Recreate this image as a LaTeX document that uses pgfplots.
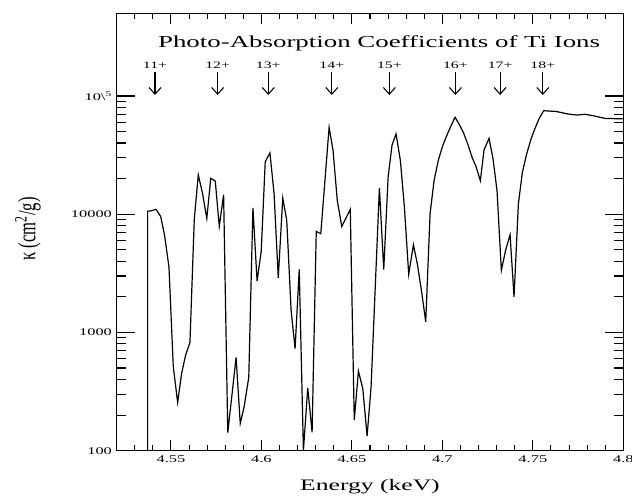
\documentclass[border=0pt]{standalone}
\usepackage{fontspec}
\setmainfont{Liberation Serif}[FakeStretch=1.6]
\newfontfamily\plainserif{Liberation Serif}
\usepackage{pgfplots}
\usepackage{pgfplotstable}
\pgfplotsset{compat=1.18}
\usetikzlibrary{arrows.meta}

% Ti ion photo-absorption coefficient
\pgfplotstableread{
E kappa
4.5371 100
4.5371 10600
4.5393 10700
4.5417 11000
4.5443 9600
4.5465 6600
4.5489 3570
4.5513 512
4.5537 256
4.5559 450
4.5581 642
4.5605 822
4.5629 9100
4.5651 21500
4.5675 14900
4.5698 9200
4.5720 20100
4.5745 19100
4.5767 7900
4.5791 14600
4.5814 142
4.5860 614
4.5883 170
4.5905 238
4.5930 416
4.5953 11300
4.5976 2720
4.5999 4880
4.6021 27800
4.6047 33000
4.6070 14900
4.6093 2900
4.6118 13700
4.6140 8850
4.6164 1540
4.6186 731
4.6209 3410
4.6232 100
4.6256 340
4.6280 143
4.6303 7150
4.6328 6840
4.6374 54200
4.6396 34500
4.6419 13100
4.6444 7870
4.6491 11000
4.6513 181
4.6536 471
4.6560 336
4.6584 133
4.6606 347
4.6652 16700
4.6676 3400
4.6700 20500
4.6722 38600
4.6744 47700
4.6768 28400
4.6790 11500
4.6814 3100
4.6840 5520
4.6862 3770
4.6886 2170
4.6908 1230
4.6932 10100
4.6954 19200
4.6978 28800
4.7002 38000
4.7024 46200
4.7048 56000
4.7070 66000
4.7092 58000
4.7116 49200
4.7140 39300
4.7164 30300
4.7186 25300
4.7210 19200
4.7230 34900
4.7258 43800
4.7280 29300
4.7302 15800
4.7326 3350
4.7350 5000
4.7374 6700
4.7396 2000
4.7420 12200
4.7442 22600
4.7466 32400
4.7490 43300
4.7514 54200
4.7536 65000
4.7560 75000
4.7628 74000
4.7696 70300
4.7743 69000
4.7789 70000
4.7835 68000
4.7899 64600
4.8000 64000
}\kappadata

\tikzset{ionarrow/.style={line width=0.8pt, -{Straight Barb[length=5pt,width=9pt,line width=0.8pt]}},
         ionlab/.style={anchor=base, font=\fontsize{7.4}{9}\selectfont}}

\begin{document}
\begin{tikzpicture}
% x ticks and the curve
\begin{axis}[
    scale only axis, width=380pt, height=328pt,
    xmin=4.52, xmax=4.8, ymode=log, ymin=100, ymax=5e5,
    clip mode=individual,
    tick style={line width=0.8pt, black},
    tick align=inside,
    ticklabel style={font=\fontsize{7.7}{9}\selectfont},
    major tick length=8pt, minor tick length=4.3pt,
    xtick={4.55,4.6,4.65,4.7,4.75,4.8},
    xticklabels={4.55,4.6,4.65,4.7,4.75,4.8},
    minor xtick={4.52,4.53,4.54,4.56,4.57,4.58,4.59,4.61,4.62,4.63,4.64,4.66,4.67,4.68,4.69,4.71,4.72,4.73,4.74,4.76,4.77,4.78,4.79},
    xtick pos=both,
    ytick=\empty, yminorticks=false,
  ]
  \addplot[black, line width=0.9pt, line join=miter] table[x=E, y=kappa] {\kappadata};
  \draw[line width=0.9pt] (rel axis cs:0,0) rectangle (rel axis cs:1,1);

  \node[anchor=base, font=\fontsize{12.6}{14}\selectfont]
    at (rel axis cs:0.518,0.921) {Photo-Absorption Coefficients of Ti Ions};
  \node[font=\fontsize{12}{14}\selectfont] at (rel axis cs:0.5,-0.083) {Energy (keV)};
  \node[xscale=1.5, rotate=90, font=\plainserif\fontsize{12.5}{14}\selectfont]
    at (rel axis cs:-0.175,0.507) {κ (cm\textsuperscript{2}/g)};

  % ionisation edges
  \draw[ionarrow] (axis cs:4.5412,1.58e5) -- (axis cs:4.5412,1.02e5);
  \draw[ionarrow] (axis cs:4.5758,1.58e5) -- (axis cs:4.5758,1.02e5);
  \draw[ionarrow] (axis cs:4.6038,1.58e5) -- (axis cs:4.6038,1.02e5);
  \draw[ionarrow] (axis cs:4.6389,1.58e5) -- (axis cs:4.6389,1.02e5);
  \draw[ionarrow] (axis cs:4.6707,1.58e5) -- (axis cs:4.6707,1.02e5);
  \draw[ionarrow] (axis cs:4.7072,1.58e5) -- (axis cs:4.7072,1.02e5);
  \draw[ionarrow] (axis cs:4.7319,1.58e5) -- (axis cs:4.7319,1.02e5);
  \draw[ionarrow] (axis cs:4.7555,1.58e5) -- (axis cs:4.7555,1.02e5);
  \node[ionlab] at (axis cs:4.5412,1.70e5) {11+};
  \node[ionlab] at (axis cs:4.5758,1.70e5) {12+};
  \node[ionlab] at (axis cs:4.6038,1.70e5) {13+};
  \node[ionlab] at (axis cs:4.6389,1.70e5) {14+};
  \node[ionlab] at (axis cs:4.6707,1.70e5) {15+};
  \node[ionlab] at (axis cs:4.7072,1.70e5) {16+};
  \node[ionlab] at (axis cs:4.7319,1.70e5) {17+};
  \node[ionlab] at (axis cs:4.7555,1.70e5) {18+};
\end{axis}
% y ticks
\begin{axis}[
    scale only axis, width=380pt, height=328pt,
    xmin=4.52, xmax=4.8, ymode=log, ymin=100, ymax=5e5,
    tick style={line width=0.8pt, black},
    tick align=inside,
    ticklabel style={font=\fontsize{7.7}{9}\selectfont},
    major tick length=13.5pt, minor tick length=6.75pt,
    xtick=\empty, xminorticks=false,
    ytick={100,1000,10000,100000},
    yticklabels={100,1000,10000,{10\textbackslash\textsuperscript{5}}},
    ytick pos=both,
  ]
\end{axis}
\pgfresetboundingbox
\path[use as bounding box] ([shift={(-87.5pt,-36.25pt)}]current axis.south west) rectangle ++(474pt,374.25pt);
\end{tikzpicture}
\end{document}
